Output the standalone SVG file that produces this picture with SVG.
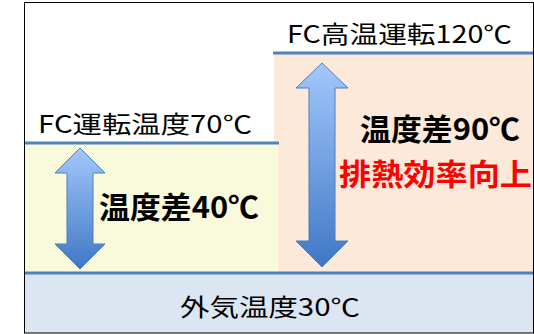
<svg xmlns="http://www.w3.org/2000/svg" width="534" height="334" viewBox="0 0 534 334">
<style>
.lbl{font-family:"Noto Sans CJK JP","Noto Sans",sans-serif;font-size:24px;fill:#000}
.big{font-family:"Noto Sans CJK JP","Noto Sans",sans-serif;font-size:30px;font-weight:bold;fill:#000}
.red{fill:#ff0000}
.lvl{stroke:#4f81bd;stroke-width:3;fill:none}
.arr{fill:url(#g);stroke:#4a7ebb;stroke-width:1}
</style>
<defs>
<linearGradient id="g" x1="0" y1="0" x2="0" y2="1">
<stop offset="0" stop-color="#a3c8fb"/>
<stop offset="1" stop-color="#3f77c6"/>
</linearGradient>
</defs>
<rect x="0" y="0" width="534" height="334" fill="#fff"/>
<g id="zones">
<rect x="274" y="53" width="259" height="220" fill="#fde9d9"/>
<rect x="25" y="143" width="253" height="130" fill="#f9fadb"/>
<rect x="25" y="273" width="508" height="60" fill="#dce6f2"/>
</g>
<g id="connectors">
<line class="lvl" x1="273" y1="53" x2="534" y2="53"/>
<line class="lvl" x1="24" y1="143" x2="279" y2="143"/>
<line class="lvl" x1="24" y1="273" x2="534" y2="273"/>
</g>
<g id="arrow40">
<path class="arr" d="M80,148 L105,173 L93,173 L93,244 L105,244 L80,269 L55,244 L67,244 L67,173 L55,173 Z"/>
</g>
<g id="arrow90">
<path class="arr" d="M322,63 L348,88 L335,88 L335,241 L348,241 L322,267 L296,241 L309,241 L309,88 L296,88 Z"/>
</g>
<g id="labels">
<text class="lbl" x="287" y="43" textLength="225" lengthAdjust="spacingAndGlyphs">FC高温運転120℃</text>
<text class="lbl" x="38" y="133" textLength="214" lengthAdjust="spacingAndGlyphs">FC運転温度70℃</text>
<text class="lbl" x="180" y="316" textLength="180" lengthAdjust="spacingAndGlyphs">外気温度30℃</text>
<text class="big" x="99" y="218" textLength="160" lengthAdjust="spacingAndGlyphs">温度差40℃</text>
<text class="big" x="360" y="140" textLength="160" lengthAdjust="spacingAndGlyphs">温度差90℃</text>
<text class="big red" x="339" y="185" textLength="193" lengthAdjust="spacingAndGlyphs">排熱効率向上</text>
</g>
<rect x="24.5" y="2.5" width="509" height="330.5" fill="none" stroke="#000" stroke-width="1"/>
</svg>
